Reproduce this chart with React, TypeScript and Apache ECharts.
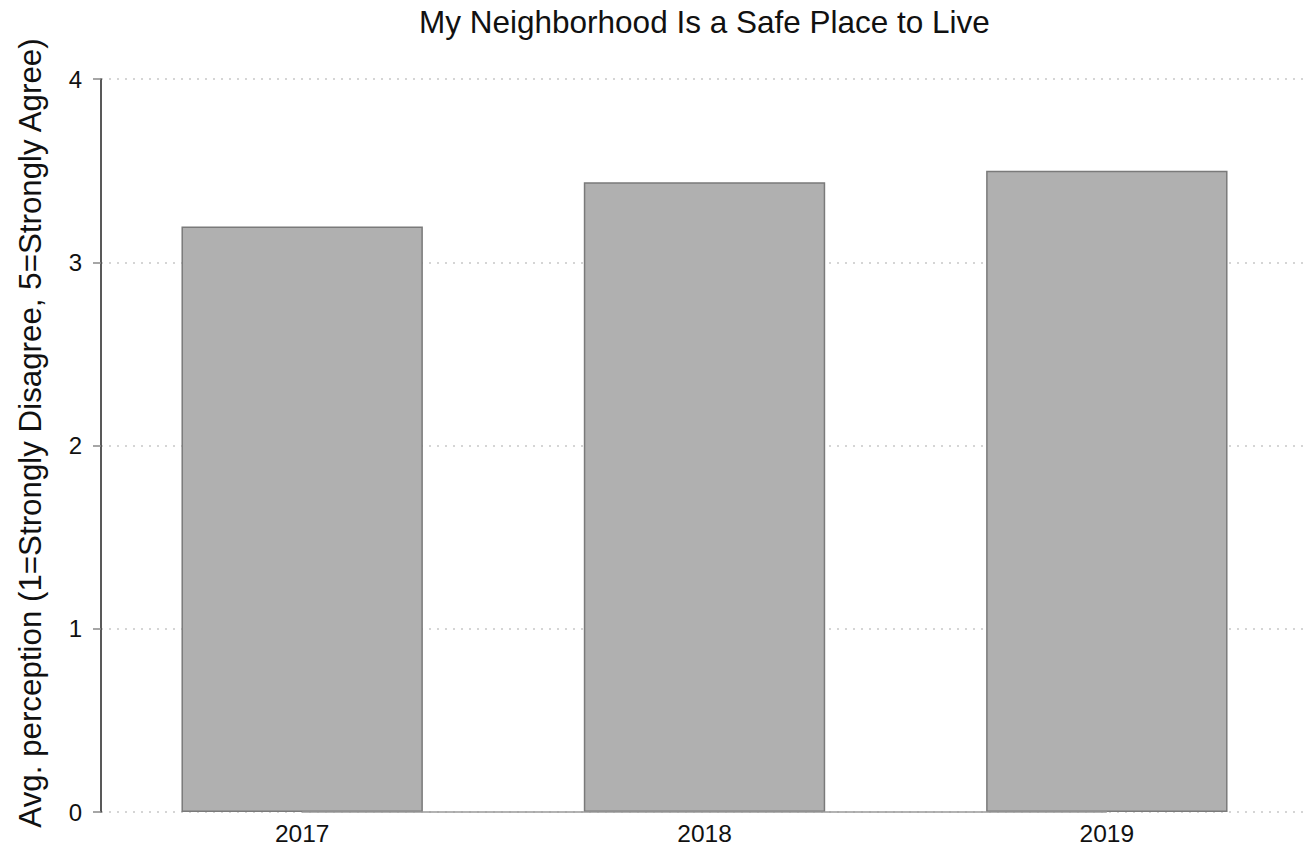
import React, { useEffect, useRef } from "react";
import * as echarts from "echarts";

const categories = ["2017", "2018", "2019"];
const values = [3.195, 3.437, 3.499];
const yTicks = [0, 1, 2, 3, 4];
const titleText = "My Neighborhood Is a Safe Place to Live";
const yAxisTitle = "Avg. perception (1=Strongly Disagree, 5=Strongly Agree)";

const FONT = "'Liberation Sans', Arial, Helvetica, sans-serif";

export default function App() {
  const ref = useRef<HTMLDivElement>(null);
  useEffect(() => {
    if (!ref.current) return;
    const chart = echarts.init(ref.current, null, { renderer: "svg" });
    chart.setOption({
      animation: false,
      backgroundColor: "#ffffff",
      textStyle: { fontFamily: FONT },
      title: {
        text: titleText,
        left: 414,
        top: 1,
        textStyle: { fontFamily: FONT, fontSize: 31.5, fontWeight: "normal", color: "#111" },
      },
      graphic: [
        {
          type: "text",
          x: 30,
          y: 433,
          rotation: Math.PI / 2,
          style: {
            text: yAxisTitle,
            fontFamily: FONT,
            fontSize: 31.3,
            fill: "#111",
            align: "center",
            verticalAlign: "middle",
          },
        },
      ],
      grid: { left: 101, right: 6, top: 79, bottom: 40, containLabel: false, outerBoundsMode: "none" },
      xAxis: {
        type: "category",
        data: categories,
        axisLine: { show: false },
        axisTick: { show: false },
        axisLabel: { fontSize: 24.5, color: "#111", margin: 9, fontFamily: FONT },
      },
      yAxis: {
        type: "value",
        min: yTicks[0],
        max: yTicks[yTicks.length - 1],
        interval: 1,
        axisLine: { show: true, lineStyle: { color: "#222", width: 1.5 } },
        axisTick: { show: true, length: 8, lineStyle: { color: "#888", width: 1.5 } },
        axisLabel: { fontSize: 24, color: "#111", margin: 19, fontFamily: FONT },
        splitLine: { show: true, lineStyle: { color: "#c8c8c8", type: [2, 6], width: 1.5 } },
      },
      series: [
        {
          type: "bar",
          data: values,
          barWidth: "60%",
          itemStyle: { color: "#b0b0b0", borderColor: "#7a7a7a", borderWidth: 1.5 },
          markLine: {
            silent: true,
            symbol: "none",
            label: { show: false },
            lineStyle: { color: "#9a9a9a", type: "solid", width: 1.5 },
            data: [
              [
                { coord: [categories[0], 0] },
                { coord: [categories[categories.length - 1], 0] },
              ],
            ],
          },
        },
      ],
    });
    return () => chart.dispose();
  }, []);
  return <div ref={ref} style={{ width: 1314, height: 852, margin: -8 }} />;
}
